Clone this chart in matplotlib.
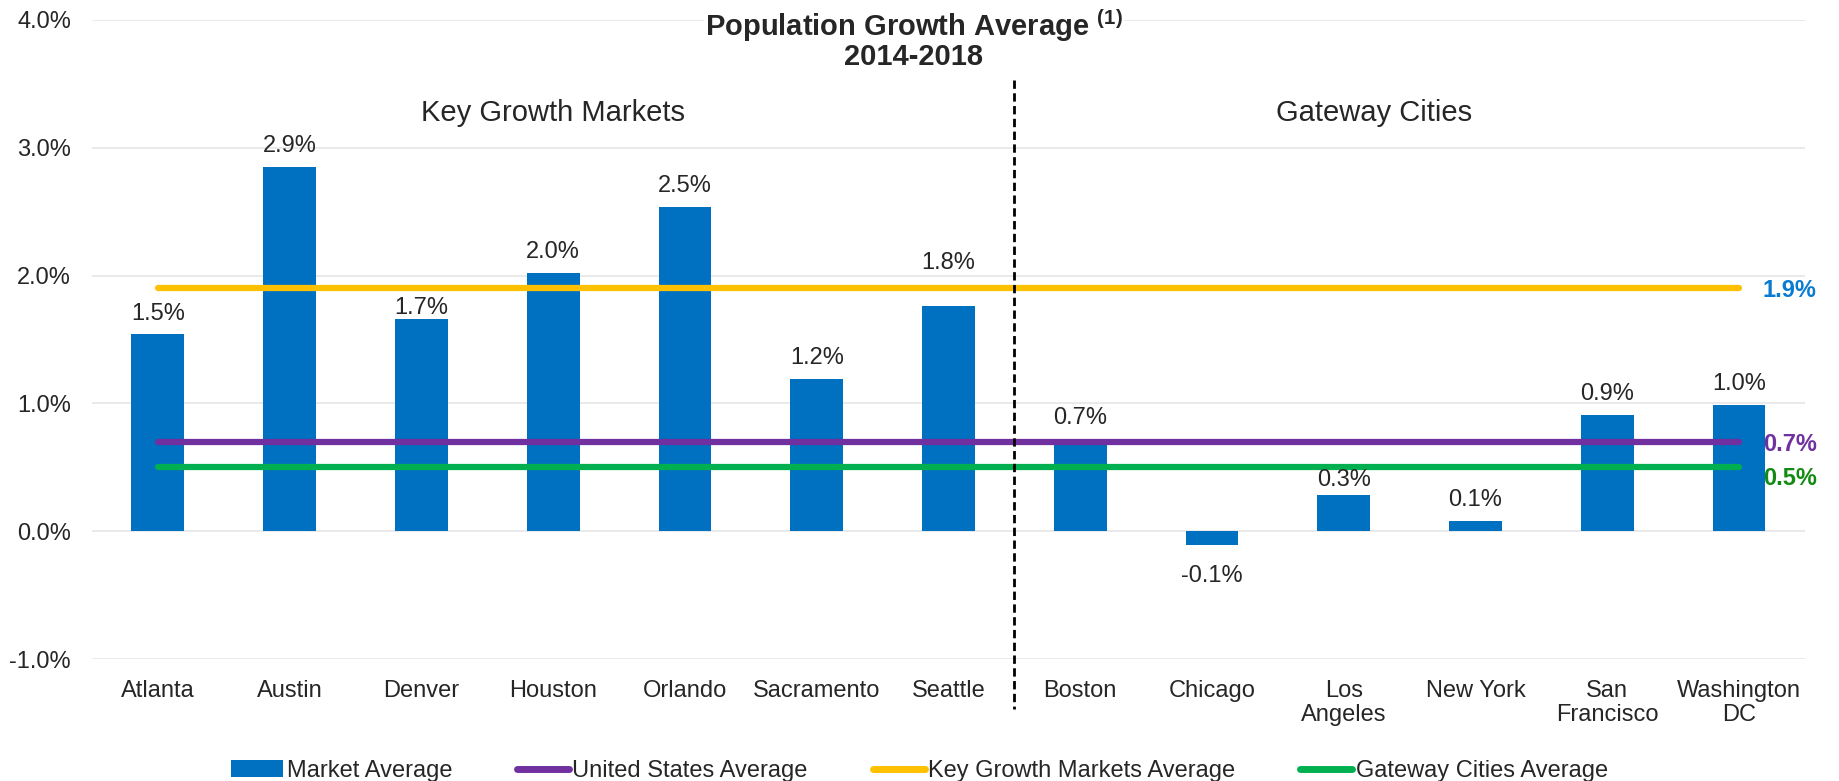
import matplotlib
matplotlib.use("Agg")
import matplotlib.pyplot as plt
from matplotlib.patches import Patch
from matplotlib.lines import Line2D

plt.rcParams['font.family'] = ['Liberation Sans', 'DejaVu Sans']
plt.rcParams['mathtext.fontset'] = 'custom'
plt.rcParams['mathtext.bf'] = 'Liberation Sans:bold'
plt.rcParams['mathtext.rm'] = 'Liberation Sans'

# data
cities = ['Atlanta', 'Austin', 'Denver', 'Houston', 'Orlando', 'Sacramento', 'Seattle',
          'Boston', 'Chicago', 'Los\nAngeles', 'New York', 'San\nFrancisco', 'Washington\nDC']
growth = [1.54, 2.85, 1.66, 2.02, 2.54, 1.19, 1.76,
          0.70, -0.11, 0.28, 0.08, 0.91, 0.99]
us_avg = 0.7
key_avg = 1.9
gateway_avg = 0.5

text_col = '#262626'
bar_col = '#0070C0'
us_col = '#7030A0'
key_col = '#FFC000'
gw_col = '#00B050'

# label offsets (points) where the labels were nudged to clear the lines
label_shift = {'Denver': 0, 'Seattle': 23, 'Boston': 9.5, 'Los\nAngeles': 3}

fig = plt.figure(figsize=(18.39, 7.81), dpi=100)
ax = fig.add_axes([0.0500, 0.1562, 0.9315, 0.8182])

x = list(range(len(cities)))
ax.bar(x, growth, width=0.4, color=bar_col, zorder=2)

# value labels
for xi, name, v in zip(x, cities, growth):
    if v >= 0:
        ax.annotate(f'{v:.1f}%', (xi, v), xytext=(0, label_shift.get(name, 7)),
                    textcoords='offset points', ha='center', va='bottom',
                    fontsize=17, color=text_col, zorder=5)
    else:
        ax.annotate(f'{v:.1f}%', (xi, v), xytext=(0, -14), textcoords='offset points',
                    ha='center', va='top', fontsize=17, color=text_col, zorder=5)

# average lines
for val, col in [(key_avg, key_col), (us_avg, us_col), (gateway_avg, gw_col)]:
    ax.plot([x[0], x[-1]], [val, val], color=col, lw=4.5, solid_capstyle='round', zorder=3)

ax.text(12.18, key_avg - 0.02, f'{key_avg:.1f}%', color='#0A7BD1', fontsize=17,
        fontweight='bold', ha='left', va='center')
ax.text(12.18, us_avg - 0.02, f'{us_avg:.1f}%', color=us_col, fontsize=17,
        fontweight='bold', ha='left', va='center')
ax.text(12.18, gateway_avg - 0.09, f'{gateway_avg:.1f}%', color='#138A13', fontsize=17,
        fontweight='bold', ha='left', va='center')

# divider
ax.plot([6.5, 6.5], [3.53, -1.39], color='black', lw=2, linestyle=(0, (3, 1.6)),
        clip_on=False, zorder=4)

ax.text(3, 3.27, 'Key Growth Markets', fontsize=21, color=text_col, ha='center', va='center')
ax.text(9.23, 3.27, 'Gateway Cities', fontsize=21, color=text_col, ha='center', va='center')

ax.set_xlim(-0.5, 12.5)
ax.set_ylim(-1, 4)
ax.set_yticks([-1, 0, 1, 2, 3, 4])
ax.set_yticklabels([f'{t:.1f}%' for t in [-1, 0, 1, 2, 3, 4]])
ax.set_xticks(x)
ax.set_xticklabels(cities, linespacing=1.15)
ax.tick_params(axis='both', length=0, labelsize=17, labelcolor=text_col)
ax.tick_params(axis='x', pad=15)
ax.tick_params(axis='y', pad=15)
ax.grid(axis='y', color='#E6E6E6', lw=1.2, zorder=0)
ax.set_axisbelow(True)
for s in ax.spines.values():
    s.set_visible(False)

# title
fig.text(0.497, 0.9676, r'Population Growth Average $^{\mathbf{(1)}}$', fontsize=21,
         fontweight='bold', color=text_col, ha='center', va='center',
         bbox=dict(facecolor='white', edgecolor='none', pad=1))
fig.text(0.497, 0.9266, '2014-2018', fontsize=21, fontweight='bold', color=text_col,
         ha='center', va='center')

handles = [Patch(facecolor=bar_col),
           Line2D([], [], color=us_col, lw=5, solid_capstyle='round'),
           Line2D([], [], color=key_col, lw=5, solid_capstyle='round'),
           Line2D([], [], color=gw_col, lw=5, solid_capstyle='round')]
labels = ['Market Average', 'United States Average', 'Key Growth Markets Average',
          'Gateway Cities Average']
fig.legend(handles, labels, loc='center', bbox_to_anchor=(0.5, 0.013), ncol=4,
           frameon=False, fontsize=17, handlelength=2.2, handletextpad=0.15,
           columnspacing=2.75, labelcolor=text_col)

fig.savefig('out.png', dpi=100)
